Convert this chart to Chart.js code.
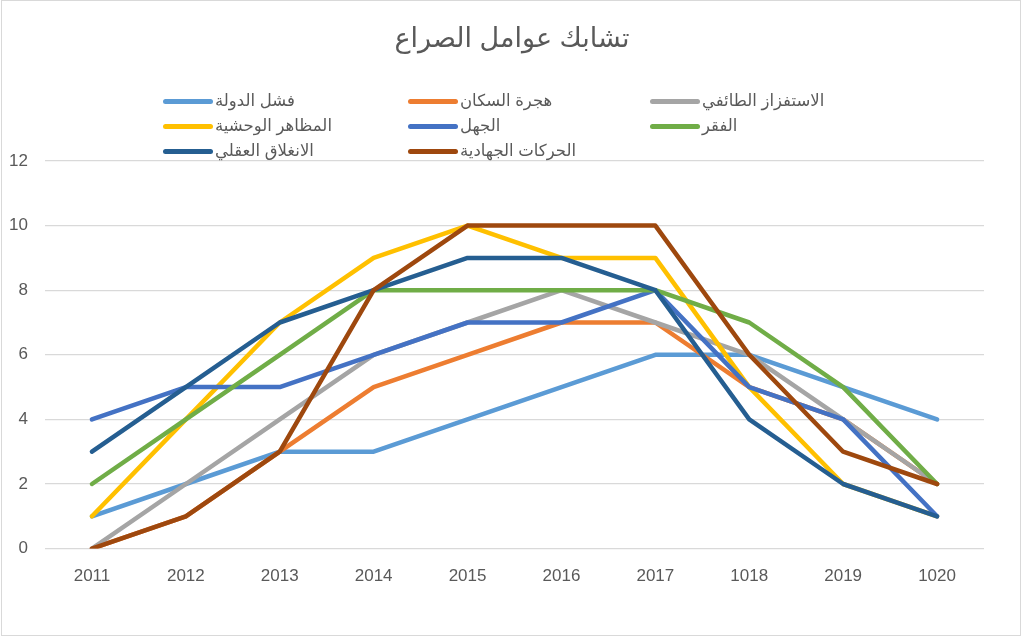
<!DOCTYPE html>
<html>
<head>
<meta charset="utf-8">
<script src="https://cdn.jsdelivr.net/npm/chart.js@4.4.0/dist/chart.umd.min.js"></script>
<style>
	body { margin: 0; background: #fff; }
	#wrap { position: relative; width: 1024px; height: 639px; }
	#frame { position: absolute; left: 1px; top: 0; width: 1020px; height: 636px; border: 1px solid #d9d9d9; box-sizing: border-box; pointer-events: none; }
	#title { position: absolute; left: 0; top: 22px; width: 1024px; text-align: center; font: 27px "Liberation Sans", "DejaVu Sans", sans-serif; color: #595959; }
	#legend { position: absolute; left: 163px; top: 89px; width: 700px; font: 16.5px "Liberation Sans", "DejaVu Sans", sans-serif; color: #595959; }
	.item { position: absolute; height: 22px; line-height: 22px; white-space: nowrap; }
	.item span.sw { display: inline-block; width: 50px; height: 5px; border-radius: 3px; vertical-align: middle; margin-right: 2px; }
</style>
</head>
<body>
<div id="wrap">
	<canvas id="main-chart" width="1024" height="639"></canvas>
	<div id="title">تشابك عوامل الصراع</div>
	<div id="legend"></div>
	<div id="frame"></div>
</div>
<script>
// categories (as written on the chart)
var years = ['2011', '2012', '2013', '2014', '2015', '2016', '2017', '1018', '2019', '1020'];

var names = ['فشل الدولة', 'هجرة السكان', 'الاستفزاز الطائفي', 'المظاهر الوحشية', 'الجهل', 'الفقر', 'الانغلاق العقلي', 'الحركات الجهادية'];
var colors = ['#5b9bd5', '#ed7d31', '#a5a5a5', '#ffc000', '#4472c4', '#70ad47', '#255e91', '#9e480e'];

var failState = [1, 2, 3, 3, 4, 5, 6, 6, 5, 4];
var migration = [0, 1, 3, 5, 6, 7, 7, 5, 4, 2];
var sectarian = [0, 2, 4, 6, 7, 8, 7, 6, 4, 2];
var brutality = [1, 4, 7, 9, 10, 9, 9, 5, 2, 1];
var ignorance = [4, 5, 5, 6, 7, 7, 8, 5, 4, 1];
var poverty = [2, 4, 6, 8, 8, 8, 8, 7, 5, 2];
var closedMind = [3, 5, 7, 8, 9, 9, 8, 4, 2, 1];
var jihadi = [0, 1, 3, 8, 10, 10, 10, 6, 3, 2];

var series = [failState, migration, sectarian, brutality, ignorance, poverty, closedMind, jihadi];

var yTicks = [0, 2, 4, 6, 8, 10, 12];

var datasets = series.map(function (vals, i) {
	return {
		label: names[i],
		data: vals,
		borderColor: colors[i],
		backgroundColor: colors[i],
		borderWidth: 4.5,
		pointRadius: 0,
		tension: 0,
		borderCapStyle: 'round',
		borderJoinStyle: 'round',
		order: series.length - i
	};
});

// legend in 3 columns like the original
var legendCols = [0, 245, 487];
var legend = document.getElementById('legend');
names.forEach(function (n, i) {
	var d = document.createElement('div');
	d.className = 'item';
	d.style.left = legendCols[i % 3] + 'px';
	d.style.top = (Math.floor(i / 3) * 25) + 'px';
	d.innerHTML = '<span class="sw" style="background:' + colors[i] + '"></span>' + n;
	legend.appendChild(d);
});

var ctx = document.getElementById('main-chart');
new Chart(ctx, {
	type: 'line',
	data: { labels: years, datasets: datasets },
	options: {
		responsive: false,
		animation: false,
		layout: { padding: { top: 161, left: 8, right: 40, bottom: 34 } },
		plugins: { legend: { display: false }, title: { display: false }, tooltip: { enabled: false } },
		scales: {
			x: {
				offset: true,
				grid: { display: false, offset: true, drawTicks: false },
				border: { display: false },
				ticks: { color: '#595959', font: { size: 17, family: 'Liberation Sans' }, padding: 18 },
				afterFit: function (axis) { axis.paddingLeft = 0; axis.paddingRight = 0; }
			},
			y: {
				min: 0,
				max: 12,
				afterBuildTicks: function (axis) { axis.ticks = yTicks.map(function (v) { return { value: v }; }); },
				grid: { color: '#d9d9d9', lineWidth: 1.3, drawTicks: false },
				border: { display: false },
				ticks: { color: '#595959', font: { size: 17, family: 'Liberation Sans' }, padding: 17 },
				afterFit: function (axis) { axis.width = 37; axis.paddingTop = 0; axis.paddingBottom = 0; }
			}
		}
	}
});
</script>
</body>
</html>
